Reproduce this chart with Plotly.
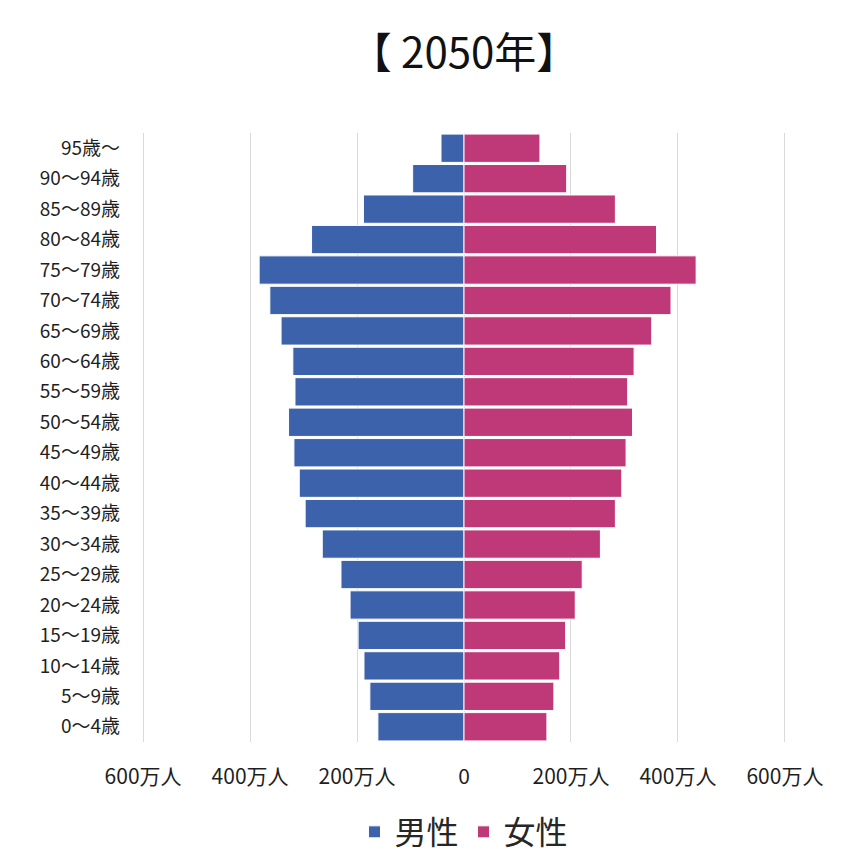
import plotly.graph_objects as go

age_groups = ["0〜4歳", "5〜9歳", "10〜14歳", "15〜19歳", "20〜24歳", "25〜29歳",
              "30〜34歳", "35〜39歳", "40〜44歳", "45〜49歳", "50〜54歳", "55〜59歳",
              "60〜64歳", "65〜69歳", "70〜74歳", "75〜79歳", "80〜84歳", "85〜89歳",
              "90〜94歳", "95歳〜"]
male = [161, 176, 187, 198, 213, 230, 265, 297, 308, 318, 328, 316, 320, 342, 363, 383, 285, 188, 96, 43]
female = [155, 168, 179, 190, 208, 221, 255, 283, 295, 303, 315, 306, 318, 351, 387, 434, 360, 283, 192, 142]
tick_vals = [-600, -400, -200, 0, 200, 400, 600]
tick_text = ["600万人", "400万人", "200万人", "0", "200万人", "400万人", "600万人"]

FONT = "Noto Sans CJK JP"

fig = go.Figure()
fig.add_trace(go.Bar(
    y=age_groups, x=[-v for v in male], orientation="h", name="男性",
    marker=dict(color="#3B62AA", line=dict(color="#ffffff", width=1)),
    customdata=male, hovertemplate="%{y}: %{customdata}万人<extra>男性</extra>",
))
fig.add_trace(go.Bar(
    y=age_groups, x=female, orientation="h", name="女性",
    marker=dict(color="#BF3878", line=dict(color="#ffffff", width=1)),
    hovertemplate="%{y}: %{x}万人<extra>女性</extra>",
))

fig.update_layout(
    width=859, height=856,
    barmode="overlay", bargap=0.07,
    paper_bgcolor="white", plot_bgcolor="white",
    margin=dict(l=142, r=73, t=133, b=114, autoexpand=False),
    font=dict(family=FONT, color="#262626"),
    title=dict(text="【 2050年】", x=0.5, xref="paper", xanchor="center",
               y=0.938, yanchor="middle",
               font=dict(size=42, color="#111111", family=FONT)),
    xaxis=dict(range=[-602, 602], tickvals=tick_vals, ticktext=tick_text,
               showgrid=True, gridcolor="#d9d9d9", gridwidth=1,
               zeroline=False, showline=False, ticks="",
               ticklabelstandoff=20, automargin=False,
               tickfont=dict(size=21, color="#1f1f1f", family=FONT),
               fixedrange=True),
    yaxis=dict(showgrid=False, zeroline=False, showline=False, ticks="",
               ticklabelstandoff=21, automargin=False,
               tickfont=dict(size=19, color="#1f1f1f", family=FONT),
               fixedrange=True),
    legend=dict(orientation="h", x=0.5, xanchor="center", xref="paper",
                y=0.028, yanchor="middle", yref="container",
                font=dict(size=32, color="#262626", family=FONT),
                itemwidth=30),
)

fig.write_html("out.html")
